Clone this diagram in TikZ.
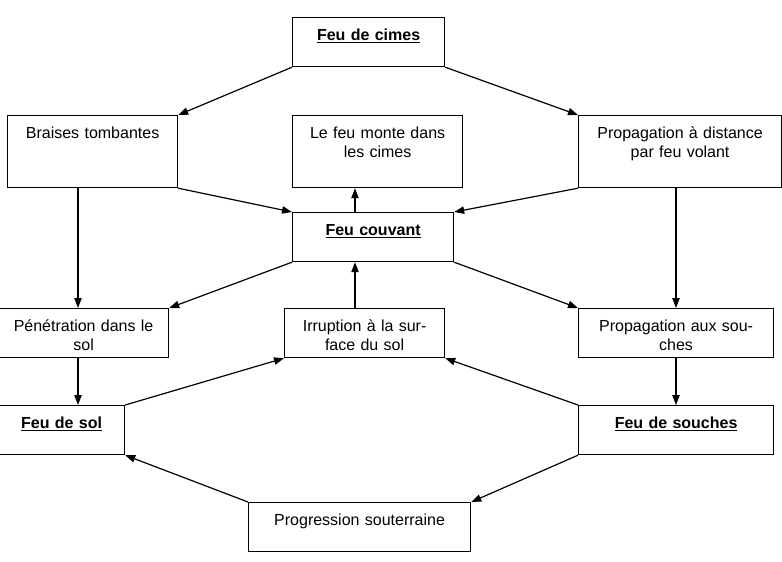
\documentclass[tikz,border=0pt]{standalone}
\usepackage{fontspec}
\setmainfont{Liberation Sans}
\usetikzlibrary{arrows.meta}

\tikzset{
	box/.style={draw, line width=0.9pt, inner sep=0pt, anchor=north west, align=center,
		font=\fontsize{12pt}{13.8pt}\selectfont, text height=17.25pt, text depth=19.5pt},
	tall/.style={box, text depth=36.75pt},
	arr/.style={line width=0.9pt, -{Triangle[length=7.5pt,width=5.5pt]}}
}
\newcommand{\titre}[1]{\underline{\textbf{#1}}}

\begin{document}
\begin{tikzpicture}[x=0.75pt,y=-0.75pt]
	\useasboundingbox (0,0) rectangle (782,561);
	\node[box, text width=114pt] (cimes) at (292,17) {\titre{Feu de cimes}};
	\node[tall, text width=127.5pt] (braises) at (7,115) {Braises tombantes};
	\node[tall, text width=127.5pt] (monte) at (292,115) {Le feu monte dans\\les cimes};
	\node[tall, text width=152.25pt] (distance) at (578,115) {Propagation à distance\\par feu volant};
	\node[box, text width=120.75pt] (couvant) at (292,212) {\titre{Feu couvant}};
	\node[box, text width=127.5pt] (penetration) at (-2,308) {Pénétration dans le\\sol};
	\node[box, text width=120pt] (irruption) at (284,308) {Irruption à la sur-\\face du sol};
	\node[box, text width=146.25pt] (propsouches) at (578,308) {Propagation aux sou-\\ches};
	\node[box, text width=94.5pt] (sol) at (-2,405) {\titre{Feu de sol}};
	\node[box, text width=146.25pt] (souches) at (578,405) {\titre{Feu de souches}};
	\node[box, text width=166.5pt] (souterraine) at (248,502) {Progression souterraine};

	\path [arr]
	(cimes.south west) edge (braises.north east)
	(cimes.south east) edge (distance.north west)
	(braises.south east) edge (couvant.north west)
	(distance.south west) edge (couvant.north east)
	([xshift=47.25pt]couvant.north west) edge ([xshift=47.25pt]monte.south west)
	([xshift=53.25pt]braises.south west) edge ([xshift=60pt]penetration.north west)
	([xshift=73.5pt]distance.south west) edge ([xshift=73.5pt]propsouches.north west)
	(couvant.south west) edge (penetration.north east)
	(couvant.south east) edge (propsouches.north west)
	([xshift=53.25pt]irruption.north west) edge ([xshift=47.25pt]couvant.south west)
	([xshift=60pt]penetration.south west) edge ([xshift=60pt]sol.north west)
	([xshift=73.5pt]propsouches.south west) edge ([xshift=73.5pt]souches.north west)
	(sol.north east) edge (irruption.south west)
	(souches.north west) edge (irruption.south east)
	(souches.south west) edge (souterraine.north east)
	(souterraine.north west) edge (sol.south east);
\end{tikzpicture}
\end{document}
